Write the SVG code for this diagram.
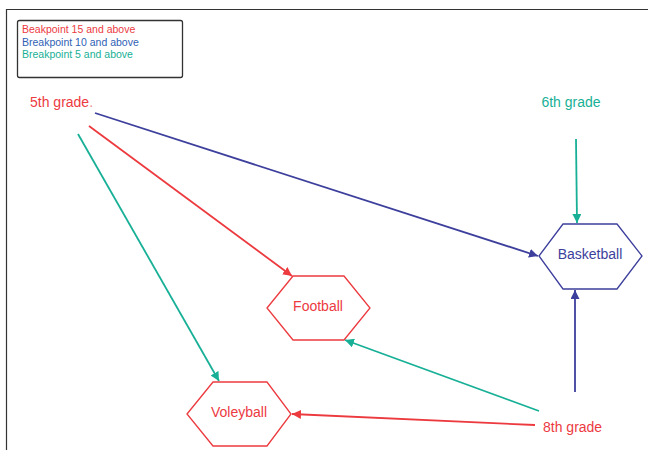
<svg xmlns="http://www.w3.org/2000/svg" width="648" height="450" viewBox="0 0 648 450">
<style>
text{font-family:"Liberation Sans",Arial,sans-serif}
.red{fill:#ec3a3f}.blue{fill:#3d3f9c}.teal{fill:#17b096}
.hex{fill:#fff;stroke-width:1.3}
.c{fill:none;stroke-width:1.8}
</style>
<defs>
<marker id="ar" viewBox="0 0 10 10" refX="10" refY="5" markerWidth="5" markerHeight="5" orient="auto" markerUnits="strokeWidth"><path d="M0,0L10,5L0,10z" fill="#ec3a3f"/></marker>
<marker id="ab" viewBox="0 0 10 10" refX="10" refY="5" markerWidth="5" markerHeight="5" orient="auto" markerUnits="strokeWidth"><path d="M0,0L10,5L0,10z" fill="#3d3f9c"/></marker>
<marker id="at" viewBox="0 0 10 10" refX="10" refY="5" markerWidth="5" markerHeight="5" orient="auto" markerUnits="strokeWidth"><path d="M0,0L10,5L0,10z" fill="#17b096"/></marker>
</defs>
<rect width="648" height="450" fill="#fff"/>
<path d="M6.5,450V9.5H648" fill="none" stroke="#333" stroke-width="1.2"/>
<g id="legend">
<rect x="17.5" y="20.5" width="165" height="57" rx="2" fill="#fff" stroke="#333" stroke-width="1.3"/>
<text x="22" y="33" font-size="10.5" class="red">Beakpoint 15 and above</text>
<text x="22" y="46" font-size="10.5" fill="#2f5fb5">Breakpoint 10 and above</text>
<text x="22" y="58" font-size="10.5" class="teal">Breakpoint 5 and above</text>
</g>
<g id="connectors">
<path class="c" d="M95,113L538,256" stroke="#3d3f9c" marker-end="url(#ab)"/>
<path class="c" d="M89,126L292,276" stroke="#ec3a3f" marker-end="url(#ar)"/>
<path class="c" d="M78,134L219,381" stroke="#17b096" marker-end="url(#at)"/>
<path class="c" d="M576,139L577,223" stroke="#17b096" marker-end="url(#at)"/>
<path class="c" d="M575,392L575,290" stroke="#3d3f9c" marker-end="url(#ab)"/>
<path class="c" d="M539,411L345,340" stroke="#17b096" marker-end="url(#at)"/>
<path class="c" d="M535,425L292,414" stroke="#ec3a3f" marker-end="url(#ar)"/>
</g>
<g id="grade5"><text x="30" y="107" font-size="14" class="red">5th grade<tspan fill="#f08a8d">.</tspan></text></g>
<g id="grade6"><text x="571" y="107" font-size="14" class="teal" text-anchor="middle">6th grade</text></g>
<g id="grade8"><text x="543" y="432" font-size="14" class="red">8th grade</text></g>
<g id="basketball">
<path class="hex" d="M539,256L563,224H617L642,256L617,289H563Z" stroke="#3d3f9c"/>
<text x="590" y="259" font-size="14" class="blue" text-anchor="middle">Basketball</text>
</g>
<g id="football">
<path class="hex" d="M267,308L293,276H344L370,308L344,340H293Z" stroke="#ec3a3f"/>
<text x="318" y="311" font-size="14" class="red" text-anchor="middle">Football</text>
</g>
<g id="volleyball">
<path class="hex" d="M187,414L213,382H267L291,414L267,446H213Z" stroke="#ec3a3f"/>
<text x="239" y="417" font-size="14" class="red" text-anchor="middle">Voleyball</text>
</g>
</svg>
